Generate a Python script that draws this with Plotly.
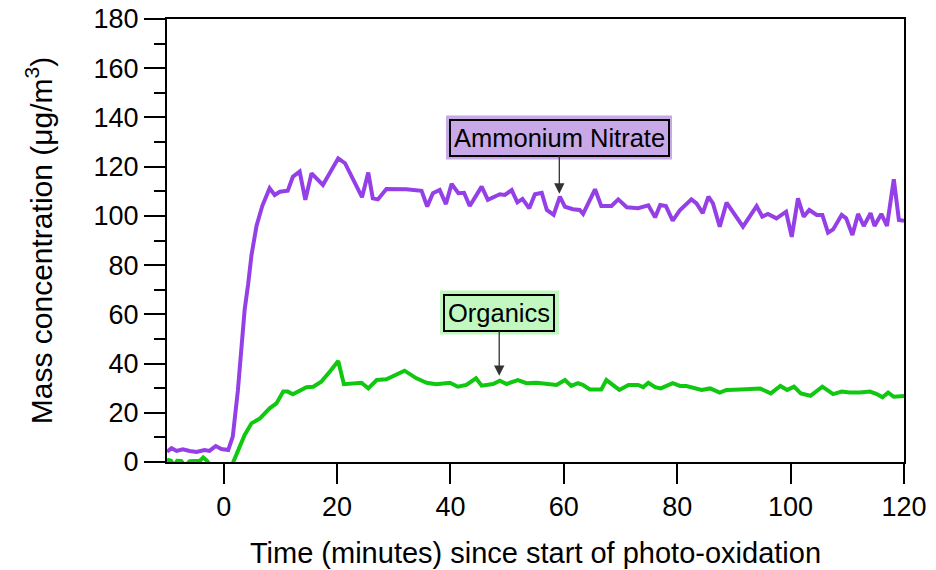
import plotly.graph_objects as go

nitrate_time = [-10, -9.2, -8.3, -7.2, -6, -4.8, -3.4, -2.5, -1.4, -0.4, 0.8, 1.6, 2.5, 3.1, 3.7, 4.3,
                4.9, 5.8, 6.8, 8.1, 9.0, 9.9, 11.3, 12.2, 13.4, 14.4, 15.5, 17.5, 20.2, 21.4, 24.4,
                25.5, 26.3, 27.2, 28.7, 32.2, 34.9, 35.9, 36.9, 38.1, 39.2, 40.2, 41.4, 42.4, 43.4,
                45.5, 46.6, 48.7, 49.6, 50.8, 51.8, 52.7, 53.9, 54.9, 56.1, 57.0, 58.2, 59.3, 60.2,
                61.6, 62.8, 63.4, 65.5, 66.6, 68.4, 69.6, 71.1, 73.1, 74.9, 76.1, 77.0, 78.0, 79.2,
                80.5, 82.5, 83.4, 84.5, 85.5, 86.3, 87.5, 88.7, 91.6, 94.0, 95.0, 96.0, 97.5, 99.2,
                100.2, 101.3, 102.3, 103.3, 104.6, 105.6, 106.6, 107.5, 109.0, 109.8, 110.9, 111.9,
                112.9, 114.1, 114.8, 116.0, 117.0, 118.2, 119.1, 120]
nitrate_mass = [4.2, 5.6, 4.5, 5.2, 4.5, 4.1, 4.9, 4.5, 6.5, 5.3, 4.9, 10.3, 29, 48, 62, 72,
                84, 96, 104, 111.2, 108.5, 109.8, 110.2, 115.9, 118, 106.5, 117.3, 112.6, 123.4, 121.4, 107.6,
                117.6, 107.1, 106.7, 110.9, 110.8, 110.2, 103.8, 109.2, 110.5, 104.8, 113, 109.2, 109.4, 104,
                111.9, 106.5, 108.8, 108.5, 110.5, 105.5, 106.9, 103.1, 108.8, 109.4, 102.4, 100.4, 107.8, 103.7,
                102.7, 102.4, 100.8, 110.8, 104, 104, 106.7, 103.5, 103.1, 104.3, 99.4, 104.4, 104, 98.1,
                102.4, 106.7, 105.1, 101.1, 107.8, 105.1, 95.6, 105.4, 95.6, 104, 99.7, 100.8, 99, 101.7,
                91.5, 107.1, 99.7, 102.4, 100.4, 100.4, 93.2, 94.5, 100.4, 99, 92.2, 100.8,
                95.9, 101.1, 95.9, 100.8, 95.9, 114.9, 98.3, 98]

organics_time = [-10, -9.3, -8.8, -8.2, -7.5, -6.8, -6.0, -5.0, -4.2, -3.6, -2.9, -2.2, 0, 1.6, 3.7,
                 4.9, 6.4, 8.1, 9.3, 10.5, 11.3, 12.2, 13.4, 14.6, 15.8, 17.2, 18.7, 20.2, 21.2, 22.8,
                 24.3, 25.5, 27, 28.7, 30.2, 31.9, 34, 35.8, 37.5, 39.9, 41.3, 42.8, 44.5, 45.5, 47.5,
                 48.7, 49.9, 51.9, 53.4, 55.2, 58.7, 60.2, 61.3, 62.5, 63.4, 64.6, 66.6, 67.5, 69.8,
                 71.4, 73.1, 74, 74.9, 76.1, 77.1, 79.2, 80.5, 81.6, 84.3, 85.8, 87.5, 88.7, 91.1,
                 92.8, 94.6, 96.5, 97.4, 98.2, 99.4, 100.6, 101.8, 103.5, 105.6, 107.5, 109, 110.4,
                 112.2, 114, 115.2, 116.2, 117.2, 118.2, 120]
organics_mass = [1, 0.5, -1.5, 0.5, 0.4, -1.5, 0.3, 0.6, 0.5, 1.8, 0.4, -2, -3, -0.5, 11,
                 15.7, 17.7, 21.8, 23.8, 28.6, 28.6, 27.5, 29, 30.4, 30.6, 32.6, 36.7, 41, 31.6, 32,
                 32.2, 29.9, 33.3, 33.6, 35.4, 37.1, 34, 32.2, 31.6, 32.2, 30.6, 31.3, 34, 31, 31.7,
                 33, 31.7, 33.3, 32, 32.2, 31.3, 33.3, 30.9, 32, 31.3, 29.5, 29.5, 33.3, 29.3,
                 31.3, 31.3, 30.4, 32.2, 30.4, 29.9, 32, 30.9, 30.9, 29.3, 29.9, 28.2, 29.3, 29.5,
                 29.5, 29.9, 27.9, 29.3, 30.9, 29.3, 30.6, 27.9, 26.9, 30.6, 27.6, 28.6, 28.2,
                 28.2, 28.6, 27.6, 26.3, 28.2, 26.5, 26.8]

x_ticks = [0, 20, 40, 60, 80, 100, 120]
y_ticks = [0, 20, 40, 60, 80, 100, 120, 140, 160, 180]

FONT = "Arial, Liberation Sans, sans-serif"
NITRATE_FILL = "#C8A8E6"
ORGANICS_FILL = "#C0F8C0"

fig = go.Figure()
fig.add_trace(go.Scatter(x=nitrate_time, y=nitrate_mass, mode="lines",
                         line=dict(color="#9440E6", width=4), name="Ammonium Nitrate"))
fig.add_trace(go.Scatter(x=organics_time, y=organics_mass, mode="lines",
                         line=dict(color="#10C810", width=4), name="Organics"))

# light halo frames behind the label boxes (paper coordinates)
fig.add_shape(type="rect", xref="paper", yref="paper", x0=0.3786, x1=0.6852, y0=0.6828, y1=0.7822,
              fillcolor=NITRATE_FILL, line=dict(width=0), layer="above")
fig.add_shape(type="rect", xref="paper", yref="paper", x0=0.3704, x1=0.5319, y0=0.2878, y1=0.3871,
              fillcolor=ORGANICS_FILL, line=dict(width=0), layer="above")

def label(text, x, y, ay, fill):
    fig.add_annotation(x=x, y=y, text=text, showarrow=True, ax=0, ay=ay,
                       arrowcolor="#333333", arrowwidth=1.3, arrowhead=2, arrowsize=1.6,
                       font=dict(family=FONT, size=25.5, color="black"),
                       bgcolor=fill, bordercolor="black", borderwidth=2, borderpad=3)

label("Ammonium Nitrate", 59.2, 109, -56, NITRATE_FILL)
label("Organics", 48.6, 35, -63, ORGANICS_FILL)

fig.update_layout(
    width=936, height=570, autosize=False,
    margin=dict(l=167, r=32, t=19, b=108),
    paper_bgcolor="white", plot_bgcolor="white",
    showlegend=False,
    font=dict(family=FONT, size=27, color="black"),
)
fig.update_xaxes(range=[-10, 120], tickvals=x_ticks, ticks="outside", ticklen=20, tickwidth=2,
                 tickcolor="black", showline=True, linecolor="black", linewidth=2, mirror=True,
                 showgrid=False, zeroline=False, tickfont=dict(size=27), automargin=False,
                 title=dict(text="Time (minutes) since start of photo-oxidation", font=dict(size=29), standoff=21))
fig.update_yaxes(range=[0, 180], tickvals=y_ticks, ticks="outside", ticklen=21, tickwidth=2,
                 tickcolor="black", showline=True, linecolor="black", linewidth=2, mirror=True,
                 showgrid=False, zeroline=False, tickfont=dict(size=27), automargin=False,
                 minor=dict(dtick=10, ticks="outside", ticklen=11, tickwidth=2, tickcolor="black", showgrid=False),
                 title=dict(text="Mass concentration (μg/m<sup>3</sup>)", font=dict(size=30), standoff=32))

fig.write_html("out.html")
